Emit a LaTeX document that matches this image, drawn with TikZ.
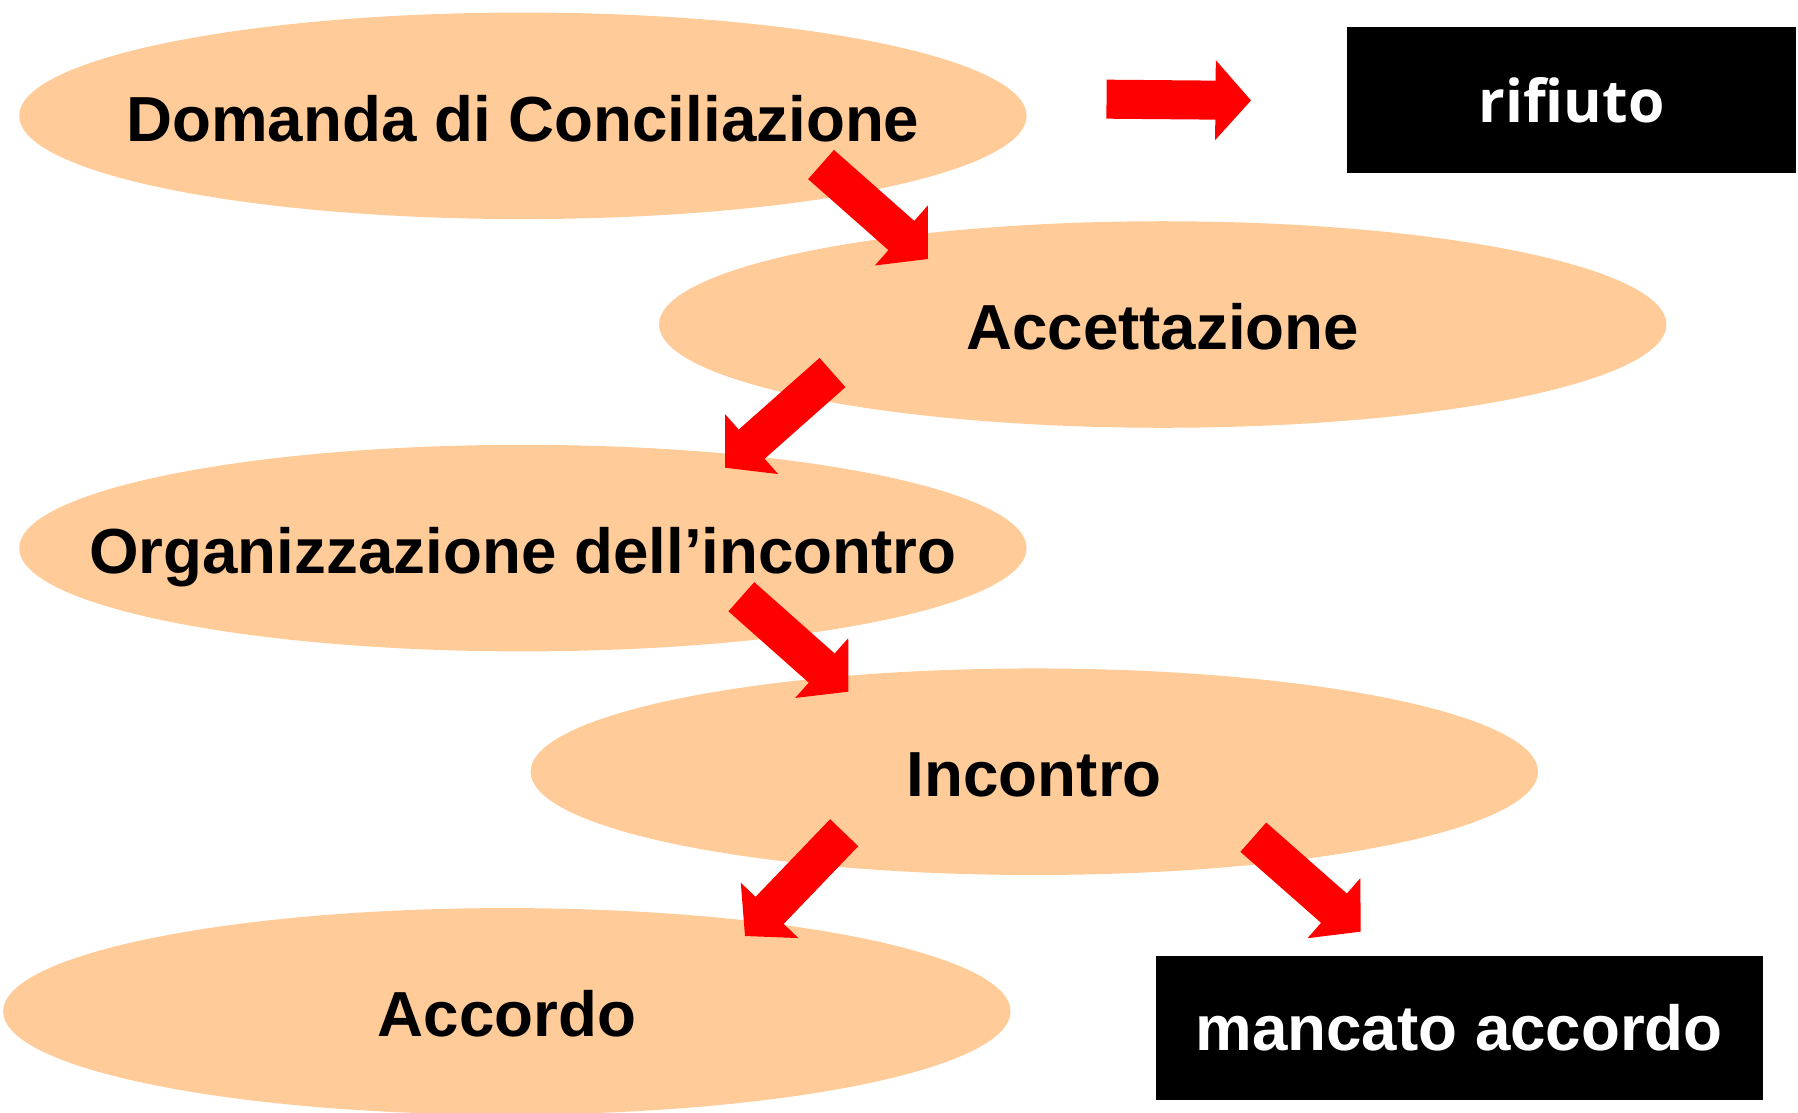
\documentclass[tikz,border=0pt]{standalone}
\usepackage{fontspec}
\setmainfont{Liberation Sans}
\newfontfamily\rifont[Ligatures=NoCommon]{Open Sans}
\usetikzlibrary{shapes.geometric,arrows.meta}
\definecolor{peach}{HTML}{FFCC99}

\begin{document}
\begin{tikzpicture}[x=0.01cm,y=-0.01cm,
  stage/.style={ellipse,fill=peach,inner sep=0pt,minimum width=8.78cm,minimum height=1.8cm,text height=14.5pt,text depth=2pt,font=\fontsize{15.8}{19}\selectfont\bfseries},
  outcome/.style={rectangle,fill=black,text=white,inner sep=0pt},
  bigarrow/.style={draw=red,line width=0.34cm,-{Triangle[length=0.31cm,width=0.69cm,line width=1pt]}}
]
\useasboundingbox (0,0) rectangle (1568,970);

\node [stage] (domanda) at (456,101) {\makebox[0pt]{Domanda di Conciliazione}} ;
\node [stage] (accettazione) at (1014,283) {\makebox[0pt]{Accettazione}} ;
\node [stage] (organizzazione) at (456,478) {\makebox[0pt]{Organizzazione dell’incontro}} ;
\node [stage] (incontro) at (902,673) {\makebox[0pt]{Incontro}} ;
\node [stage] (accordo) at (442,882) {\makebox[0pt]{Accordo}} ;

\node [outcome,minimum width=3.91cm,minimum height=1.266cm,font=\rifont\bfseries\fontsize{14.6}{17}\selectfont] (rifiuto) at (1370.5,87.3) {rifiuto} ;
\node [outcome,minimum width=5.29cm,minimum height=1.25cm,font=\fontsize{15.8}{19}\selectfont\bfseries] (mancato) at (1272.5,896.5) {mancato accordo} ;

\coordinate (a1s) at (965,86.5) ;
\coordinate (a1e) at (1091,87.6) ;
\coordinate (a2s) at (716,143.5) ;
\coordinate (a2e) at (809.3,225.9) ;
\coordinate (a3s) at (726,324.9) ;
\coordinate (a3e) at (632.3,407.9) ;
\coordinate (a4s) at (646.5,520.4) ;
\coordinate (a4e) at (739.8,603.2) ;
\coordinate (a5s) at (736.2,726.2) ;
\coordinate (a5e) at (649.7,816.3) ;
\coordinate (a6s) at (1093,730.1) ;
\coordinate (a6e) at (1186.6,812.5) ;

\draw [bigarrow] (a1s) -- (a1e) ;
\draw [bigarrow] (a2s) -- (a2e) ;
\draw [bigarrow] (a3s) -- (a3e) ;
\draw [bigarrow] (a4s) -- (a4e) ;
\draw [bigarrow] (a5s) -- (a5e) ;
\draw [bigarrow] (a6s) -- (a6e) ;

\end{tikzpicture}
\end{document}
